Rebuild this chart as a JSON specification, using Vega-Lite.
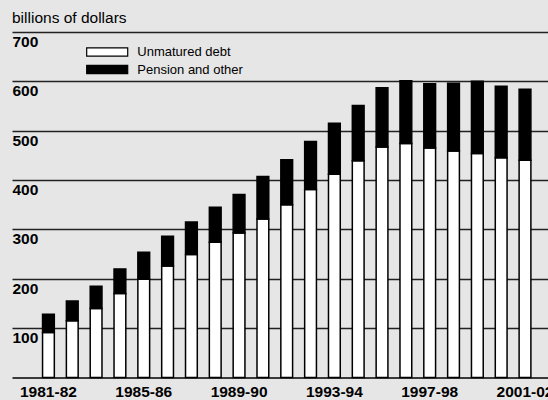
{
  "$schema": "https://vega.github.io/schema/vega-lite/v6.json",
  "width": 536,
  "height": 345.5,
  "autosize": {"type": "none"},
  "padding": {"left": 12, "top": 32, "right": 0, "bottom": 22.5},
  "background": "#e6e6e6",
  "config": {"view": {"stroke": null}, "font": "Liberation Sans"},
  "title": {"text": "billions of dollars", "anchor": "start", "frame": "group", "fontSize": 15.5, "fontWeight": "normal", "font": "Liberation Sans", "color": "black", "offset": 6},
  "data": {"values": [
    {"year": "1981-82", "series": "Unmatured debt", "value": 91}, {"year": "1981-82", "series": "Pension and other", "value": 37},
    {"year": "1982-83", "series": "Unmatured debt", "value": 115}, {"year": "1982-83", "series": "Pension and other", "value": 40},
    {"year": "1983-84", "series": "Unmatured debt", "value": 140}, {"year": "1983-84", "series": "Pension and other", "value": 45},
    {"year": "1984-85", "series": "Unmatured debt", "value": 170}, {"year": "1984-85", "series": "Pension and other", "value": 50},
    {"year": "1985-86", "series": "Unmatured debt", "value": 199}, {"year": "1985-86", "series": "Pension and other", "value": 55},
    {"year": "1986-87", "series": "Unmatured debt", "value": 226}, {"year": "1986-87", "series": "Pension and other", "value": 60},
    {"year": "1987-88", "series": "Unmatured debt", "value": 249}, {"year": "1987-88", "series": "Pension and other", "value": 66},
    {"year": "1988-89", "series": "Unmatured debt", "value": 274}, {"year": "1988-89", "series": "Pension and other", "value": 71},
    {"year": "1989-90", "series": "Unmatured debt", "value": 293}, {"year": "1989-90", "series": "Pension and other", "value": 78},
    {"year": "1990-91", "series": "Unmatured debt", "value": 321}, {"year": "1990-91", "series": "Pension and other", "value": 86},
    {"year": "1991-92", "series": "Unmatured debt", "value": 350}, {"year": "1991-92", "series": "Pension and other", "value": 91},
    {"year": "1992-93", "series": "Unmatured debt", "value": 381}, {"year": "1992-93", "series": "Pension and other", "value": 97},
    {"year": "1993-94", "series": "Unmatured debt", "value": 412}, {"year": "1993-94", "series": "Pension and other", "value": 103},
    {"year": "1994-95", "series": "Unmatured debt", "value": 439}, {"year": "1994-95", "series": "Pension and other", "value": 112},
    {"year": "1995-96", "series": "Unmatured debt", "value": 467}, {"year": "1995-96", "series": "Pension and other", "value": 120},
    {"year": "1996-97", "series": "Unmatured debt", "value": 474}, {"year": "1996-97", "series": "Pension and other", "value": 127},
    {"year": "1997-98", "series": "Unmatured debt", "value": 465}, {"year": "1997-98", "series": "Pension and other", "value": 130},
    {"year": "1998-99", "series": "Unmatured debt", "value": 459}, {"year": "1998-99", "series": "Pension and other", "value": 137},
    {"year": "1999-00", "series": "Unmatured debt", "value": 454}, {"year": "1999-00", "series": "Pension and other", "value": 146},
    {"year": "2000-01", "series": "Unmatured debt", "value": 445}, {"year": "2000-01", "series": "Pension and other", "value": 145},
    {"year": "2001-02", "series": "Unmatured debt", "value": 440}, {"year": "2001-02", "series": "Pension and other", "value": 144}
  ]},
  "mark": {"type": "bar", "stroke": "black", "strokeWidth": 1.5},
  "encoding": {
    "x": {
      "field": "year", "type": "ordinal", "sort": null,
      "scale": {"paddingInner": 0.506, "paddingOuter": 1.255, "align": 0.641},
      "axis": {"title": null, "values": ["1981-82", "1985-86", "1989-90", "1993-94", "1997-98", "2001-02"], "labelAngle": 0, "ticks": false, "tickSize": 0, "labelPadding": 6.5, "labelFontSize": 15.5, "labelFontWeight": "bold", "labelFont": "Liberation Sans", "labelColor": "black", "domainColor": "black", "domainWidth": 1.5, "labelOverlap": false, "labelBaseline": "top"}
    },
    "y": {
      "field": "value", "type": "quantitative", "stack": "zero",
      "scale": {"domain": [0, 700]},
      "axis": {"title": null, "values": [100, 200, 300, 400, 500, 600, 700], "domain": false, "ticks": false, "tickSize": 0, "labelAlign": "left", "labelBaseline": "top", "labelPadding": 0, "labelOffset": 2.5, "labelFlush": false, "labelFontSize": 15.5, "labelFontWeight": "bold", "labelFont": "Liberation Sans", "labelColor": "black", "grid": true, "gridColor": "#222222", "gridWidth": 1.3, "gridOpacity": 1}
    },
    "color": {
      "field": "series", "type": "nominal",
      "scale": {"domain": ["Unmatured debt", "Pension and other"], "range": ["white", "black"]},
      "legend": {"orient": "none", "legendX": 87.7, "legendY": 12.5, "title": null, "padding": 0, "symbolType": "M-3,-0.6H3V0.6H-3Z", "symbolSize": 187, "symbolStrokeColor": "black", "symbolStrokeWidth": 1.2, "labelFontSize": 13, "labelFont": "Liberation Sans", "labelColor": "black", "labelOffset": 22.6, "rowPadding": 2.5}
    },
    "order": {"field": "series", "sort": "descending"}
  }
}
